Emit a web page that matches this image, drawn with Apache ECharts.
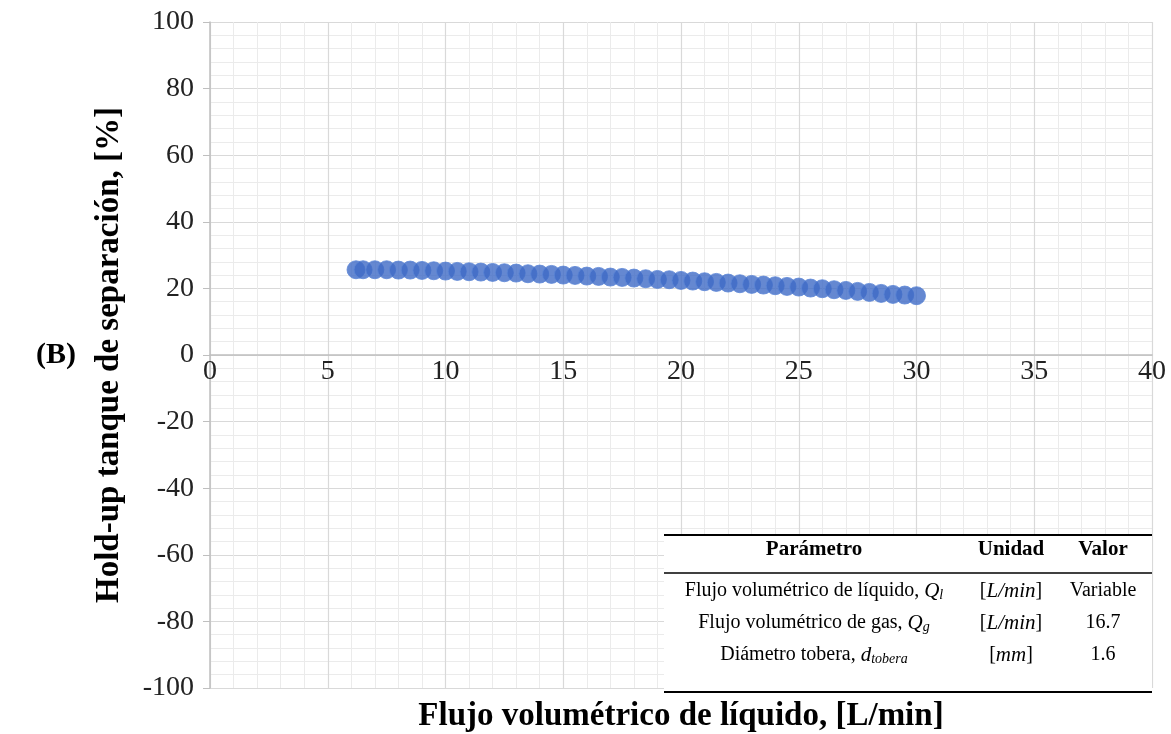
<!DOCTYPE html>
<html>
<head>
<meta charset="utf-8">
<script src="https://cdn.jsdelivr.net/npm/echarts@6/dist/echarts.min.js"></script>
<style>
  html, body { margin: 0; padding: 0; background: #fff; }
  #chart { width: 1171px; height: 734px; }
</style>
</head>
<body>
<div id="chart"></div>
<script>
// datos
var caudalLiquido = [6.2, 6.5, 7, 7.5, 8, 8.5, 9, 9.5, 10, 10.5, 11, 11.5, 12, 12.5, 13, 13.5, 14, 14.5, 15, 15.5,
  16, 16.5, 17, 17.5, 18, 18.5, 19, 19.5, 20, 20.5, 21, 21.5, 22, 22.5, 23, 23.5, 24, 24.5, 25, 25.5,
  26, 26.5, 27, 27.5, 28, 28.5, 29, 29.5, 30];
var holdUp = [25.6, 25.6, 25.6, 25.6, 25.5, 25.5, 25.4, 25.3, 25.2, 25.1, 25.0, 24.9, 24.8, 24.7, 24.6, 24.4, 24.3, 24.2, 24.0, 23.9,
  23.7, 23.6, 23.4, 23.3, 23.1, 22.9, 22.7, 22.6, 22.4, 22.2, 22.0, 21.8, 21.6, 21.4, 21.2, 21.0, 20.8, 20.6, 20.4, 20.1,
  19.9, 19.6, 19.4, 19.1, 18.8, 18.5, 18.2, 18.0, 17.8];

// tabla de parametros
var tablaCabecera = ['Parámetro', 'Unidad', 'Valor'];
var tablaParametro = [
  'Flujo volumétrico de líquido, {q|Q}{s|l}',
  'Flujo volumétrico de gas, {q|Q}{s|g}',
  'Diámetro tobera, {q|d}{s|tobera}'
];
var tablaUnidad = ['[{q|L/min}]', '[{q|L/min}]', '[{q|mm}]'];
var tablaValor = ['Variable', '16.7', '1.6'];

var serif = '"Liberation Serif", "DejaVu Serif", serif';

var myChart = echarts.init(document.getElementById('chart'));  //inicializar

var pts = [];
for (var i = 0; i < caudalLiquido.length; i++) {
  pts.push([caudalLiquido[i], holdUp[i]]);
}

// tabla dibujada con graphic
var tx0 = 664, tx1 = 1152;
var colX = [814, 1011, 1103];
var rowY = [550, 591, 623, 655];
var richTabla = {
  q: { fontFamily: serif, fontStyle: 'italic', fontSize: 21, color: '#000' },
  s: { fontFamily: serif, fontStyle: 'italic', fontSize: 14, color: '#000', verticalAlign: 'bottom', padding: [9, 0, 0, 0] }
};
var tablaElems = [
  { type: 'rect', z: 100, shape: { x: tx0, y: 534, width: tx1 - tx0, height: 159 }, style: { fill: '#fff' } },
  { type: 'line', z: 101, shape: { x1: tx0, y1: 535, x2: tx1, y2: 535 }, style: { stroke: '#000', lineWidth: 2 } },
  { type: 'line', z: 101, shape: { x1: tx0, y1: 573, x2: tx1, y2: 573 }, style: { stroke: '#000', lineWidth: 1.5 } },
  { type: 'line', z: 101, shape: { x1: tx0, y1: 692, x2: tx1, y2: 692 }, style: { stroke: '#000', lineWidth: 2 } }
];
for (var c = 0; c < 3; c++) {
  tablaElems.push({
    type: 'text', z: 101, x: colX[c], y: rowY[0],
    style: { text: tablaCabecera[c], font: 'bold 21px ' + serif, fill: '#000', align: 'center', verticalAlign: 'middle' }
  });
}
for (var r = 0; r < 3; r++) {
  var fila = [tablaParametro[r], tablaUnidad[r], tablaValor[r]];
  for (var c2 = 0; c2 < 3; c2++) {
    tablaElems.push({
      type: 'text', z: 101, x: colX[c2], y: rowY[r + 1],
      style: {
        text: fila[c2], fontFamily: serif, fontSize: 20, fill: '#000',
        align: 'center', verticalAlign: 'middle', rich: richTabla
      }
    });
  }
}

var option = {
  backgroundColor: '#fff',
  animation: false,
  grid: { left: 210, right: 19, top: 22, bottom: 46, containLabel: false },
  xAxis: {
    type: 'value',
    min: 0, max: 40, interval: 5,
    position: 'bottom',
    offset: -333,   // eje cruzando en y = 0
    axisLine: { show: true, onZero: false, lineStyle: { color: '#BFBFBF', width: 1.5 } },
    axisTick: { show: false },
    axisLabel: { fontFamily: serif, fontSize: 28, color: '#222', margin: 3 },
    splitLine: { show: true, lineStyle: { color: '#D9D9D9', width: 1.2 } },
    minorTick: { show: false, splitNumber: 5 },
    minorSplitLine: { show: true, lineStyle: { color: '#EBEBEB', width: 1 } }
  },
  yAxis: {
    type: 'value',
    min: -100, max: 100, interval: 20,
    name: 'Hold-up tanque de separación, [%]',
    nameLocation: 'middle',
    nameGap: 84,
    nameTextStyle: { fontFamily: serif, fontWeight: 'bold', fontSize: 33, color: '#000' },
    axisLine: { show: true, onZero: false, lineStyle: { color: '#BFBFBF', width: 1.5 } },
    axisTick: { show: true, length: 7, lineStyle: { color: '#BFBFBF' } },
    axisLabel: { fontFamily: serif, fontSize: 28, color: '#222', margin: 16 },
    splitLine: { show: true, lineStyle: { color: '#D9D9D9', width: 1.2 } },
    minorTick: { show: false, splitNumber: 5 },
    minorSplitLine: { show: true, lineStyle: { color: '#EBEBEB', width: 1 } }
  },
  graphic: [
    {
      type: 'text', x: 56, y: 355,
      style: { text: '(B)', font: 'bold 30px ' + serif, fill: '#000', align: 'center', verticalAlign: 'middle' }
    },
    {
      type: 'text', x: 681, y: 716,
      style: { text: 'Flujo volumétrico de líquido, [L/min]', font: 'bold 33px ' + serif, fill: '#000', align: 'center', verticalAlign: 'middle' }
    },
    { type: 'group', children: tablaElems }
  ],
  series: [{
    name: 'Hold-up',
    type: 'scatter',
    symbol: 'circle',
    symbolSize: 18,
    itemStyle: { color: '#3F6AC6', borderColor: '#5A85D6', borderWidth: 1 },
    data: pts
  }]
};
myChart.setOption(option);
</script>
</body>
</html>
